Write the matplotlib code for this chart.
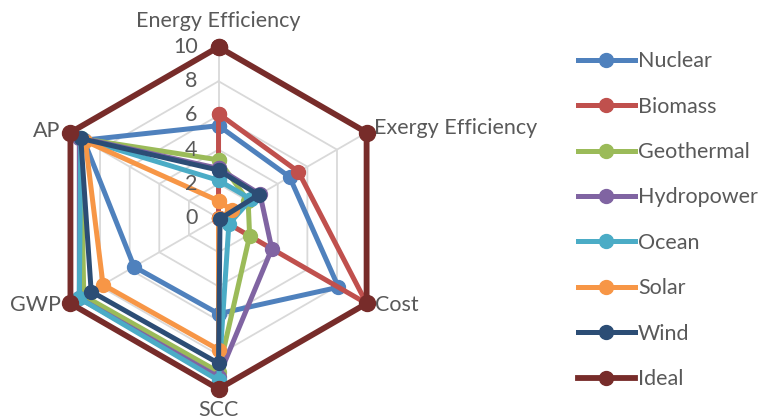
import numpy as np
import matplotlib
matplotlib.use('Agg')
import matplotlib.pyplot as plt

plt.rcParams['font.family'] = ['Lato', 'DejaVu Sans']

# criteria around the radar, clockwise from the top
criteria = ['Energy Efficiency', 'Exergy Efficiency', 'Cost', 'SCC', 'GWP', 'AP']

# scores (0-10)
nuclear    = [5.4, 4.8, 8.1, 5.6, 5.7, 9.1]
biomass    = [6.1, 5.4, 10.0, 0.0, 0.0, 0.0]
geothermal = [3.4, 2.0, 2.1, 9.0, 9.1, 9.3]
hydropower = [2.9, 2.8, 3.6, 9.3, 9.4, 9.4]
ocean      = [2.2, 2.2, 0.7, 9.5, 9.4, 9.3]
solar      = [1.0, 0.9, 0.0, 7.7, 7.8, 9.0]
wind       = [2.8, 2.7, 0.1, 8.5, 8.6, 9.3]
ideal      = [10, 10, 10, 10, 10, 10]

series = ['Nuclear', 'Biomass', 'Geothermal', 'Hydropower', 'Ocean', 'Solar', 'Wind', 'Ideal']
values = [nuclear, biomass, geothermal, hydropower, ocean, solar, wind, ideal]
colors = ['#4f81bd', '#c0504d', '#9bbb59', '#8064a2', '#4bacc6', '#f79646', '#2c4d75', '#772c2a']

ticks = [0, 2, 4, 6, 8, 10]
txt_col = '#595959'
fs = 15.5

n = len(criteria)
angles = np.arange(n) * 2 * np.pi / n
angles_closed = np.append(angles, angles[0])

fig = plt.figure(figsize=(7.63, 4.2), dpi=100)
ax = fig.add_axes([0.0623, 0.0738, 0.4482, 0.8143], projection='polar')
ax.set_theta_zero_location('N')
ax.set_theta_direction(-1)
ax.set_ylim(0, 10)
ax.grid(False)
ax.spines['polar'].set_visible(False)
ax.set_xticks([])
ax.set_yticks([])
ax.patch.set_alpha(0)

# hexagonal gridlines and spokes
for t in ticks[1:]:
    ax.plot(angles_closed, [t] * (n + 1), color='#d9d9d9', lw=1.3, zorder=1)
for a in angles:
    ax.plot([a, a], [0, ticks[-1]], color='#d9d9d9', lw=1.3, zorder=1)

for name, vals, c in zip(series, values, colors):
    v = np.append(vals, vals[0])
    lw = 4.2 if name == 'Ideal' else 3.6
    ms = 11.5 if name == 'Ideal' else 10
    ax.plot(angles_closed, v, color=c, lw=lw, marker='o', ms=ms,
            label=name, zorder=3, clip_on=False)

# value labels along the top spoke
for t in ticks:
    ax.annotate(str(t), xy=(0, t), xytext=(-15, 0), textcoords='offset points',
                ha='right', va='center', fontsize=fs, color=txt_col)

# criterion labels
offsets = [(0, 19, 'center', 'center'), (5, 3, 'left', 'center'),
           (6, -1, 'left', 'center'), (0, -15, 'center', 'center'),
           (-7, -1, 'right', 'center'), (-7, 1, 'right', 'center')]
for a, lab, (dx, dy, ha, va) in zip(angles, criteria, offsets):
    ax.annotate(lab, xy=(a, 10), xytext=(dx, dy), textcoords='offset points',
                ha=ha, va=va, fontsize=fs, color=txt_col, annotation_clip=False)

leg = fig.legend(loc='upper left', bbox_to_anchor=(0.757, 0.878), frameon=False,
                 fontsize=fs, handlelength=2.65, handletextpad=0.15,
                 labelspacing=1.18, borderaxespad=0, borderpad=0)
for t in leg.get_texts():
    t.set_color(txt_col)
for h in leg.legend_handles:
    h.set_markersize(10)

fig.savefig('out.png', dpi=100)
